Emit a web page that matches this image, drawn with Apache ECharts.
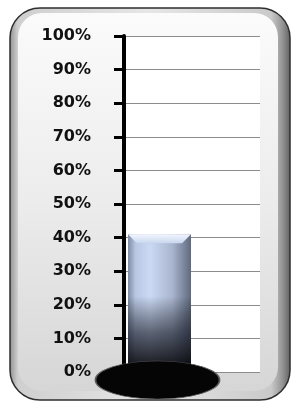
<!DOCTYPE html>
<html>
<head>
<meta charset="utf-8">
<script src="https://cdn.jsdelivr.net/npm/echarts@6/dist/echarts.min.js"></script>
<style>
  html, body { margin: 0; padding: 0; background: #fff; }
  #main { width: 291px; height: 404px; }
</style>
</head>
<body>
<div id="main"></div>
<script>
// 数据
var categories = ['完成率', ''];
var values = [0.41, null];
var bulb = [[0, 0]];

var myChart = echarts.init(document.getElementById('main'));

option = {
    animation: false,
    backgroundColor: '#fff',
    graphic: [
        {
            // 外框
            type: 'rect',
            z: -10,
            shape: { x: 10, y: 8, width: 280, height: 392, r: 30 },
            style: {
                fill: new echarts.graphic.LinearGradient(0, 0, 1, 0, [
                    { offset: 0, color: '#8e8e8e' },
                    { offset: 0.03, color: '#cfcfcf' },
                    { offset: 0.5, color: '#e6e6e6' },
                    { offset: 0.93, color: '#cacaca' },
                    { offset: 0.97, color: '#959595' },
                    { offset: 1, color: '#5e5e5e' }
                ]),
                stroke: '#2e2e2e',
                lineWidth: 1.5
            }
        },
        {
            // 内面
            type: 'rect',
            z: -9,
            shape: { x: 18, y: 13, width: 260, height: 378, r: 24 },
            style: {
                fill: new echarts.graphic.LinearGradient(0, 0, 0, 1, [
                    { offset: 0, color: '#fbfbfb' },
                    { offset: 0.5, color: '#ececec' },
                    { offset: 1, color: '#d6d6d6' }
                ])
            }
        }
    ],
    grid: {
        left: 126,
        right: 31,
        top: 36,
        bottom: 32,
        show: true,
        backgroundColor: '#fff',
        borderWidth: 0
    },
    xAxis: {
        type: 'category',
        data: categories,
        axisLine: { show: false },
        axisTick: { show: false },
        axisLabel: { show: false }
    },
    yAxis: {
        type: 'value',
        min: 0,
        max: 1,
        interval: 0.1,
        offset: 2,
        axisLine: { show: true, lineStyle: { color: '#000', width: 4 } },
        axisTick: { show: true, length: 10, lineStyle: { color: '#000', width: 3 } },
        axisLabel: {
            margin: 33,
            fontFamily: 'DejaVu Sans',
            fontWeight: 'bold',
            fontSize: 16,
            color: '#111',
            formatter: function (v) { return Math.round(v * 100) + '%'; }
        },
        splitLine: { show: true, lineStyle: { color: '#8c8c8c', width: 1 } }
    },
    series: [
        {
            name: '完成率',
            type: 'bar',
            barWidth: 63,
            barGap: '-100%',
            data: values,
            itemStyle: {
                color: new echarts.graphic.LinearGradient(0, 0, 1, 0, [
                    { offset: 0, color: '#7f8ba3' },
                    { offset: 0.12, color: '#b9c7e3' },
                    { offset: 0.35, color: '#cbd9f4' },
                    { offset: 0.7, color: '#aab6cf' },
                    { offset: 1, color: '#5f6a80' }
                ])
            }
        },
        {
            name: '阴影',
            type: 'bar',
            barWidth: 63,
            barGap: '-100%',
            data: values,
            itemStyle: {
                color: new echarts.graphic.LinearGradient(0, 0, 0, 1, [
                    { offset: 0, color: 'rgba(0,0,0,0)' },
                    { offset: 0.45, color: 'rgba(0,0,0,0)' },
                    { offset: 0.72, color: 'rgba(15,18,28,0.6)' },
                    { offset: 1, color: 'rgba(0,0,0,0.95)' }
                ])
            }
        },
        {
            name: '顶面',
            type: 'pictorialBar',
            symbol: 'path://M0,0 L63,0 L54,9 L9,9 Z',
            symbolSize: [63, 9],
            symbolPosition: 'end',
            data: values,
            z: 5,
            itemStyle: {
                color: new echarts.graphic.LinearGradient(0, 0, 0, 1, [
                    { offset: 0, color: '#f2f6fd' },
                    { offset: 1, color: '#c9d6ef' }
                ]),
                borderColor: '#9aa6bd',
                borderWidth: 0.5
            }
        },
        {
            name: '底座',
            type: 'scatter',
            data: bulb,
            symbol: 'circle',
            symbolSize: [124, 38],
            symbolOffset: [-2, 8],
            z: 10,
            itemStyle: { color: '#050505', borderColor: '#5a5a5a', borderWidth: 1, opacity: 1 }
        }
    ]
};

myChart.setOption(option);
</script>
</body>
</html>
